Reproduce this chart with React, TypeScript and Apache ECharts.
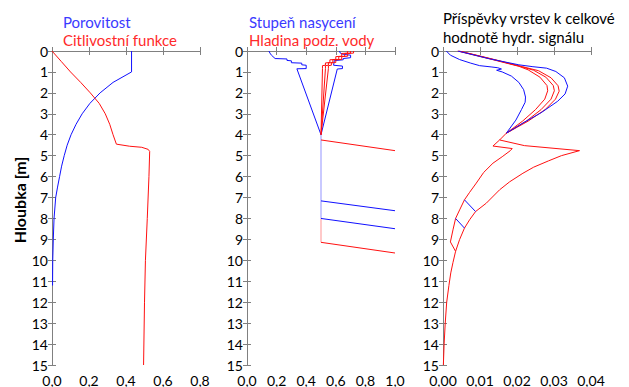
import React, { useEffect, useRef } from "react";
import * as echarts from "echarts";

// ---- Panel 1: porosity and sensitivity function vs depth ----
const porosityDepth = [0, 1, 1.5, 2, 2.5, 3, 3.5, 4, 4.5, 5, 5.5, 6, 6.5, 7, 8, 9, 10, 11.2];
const porosity = [0.43, 0.43, 0.33, 0.26, 0.205, 0.163, 0.13, 0.103, 0.082, 0.066, 0.052, 0.041, 0.03, 0.02, 0.011, 0.007, 0.004, 0.003];

const sensDepth = [0, 0.5, 1, 1.5, 2, 2.5, 3, 3.5, 4, 4.45, 4.55, 4.6, 4.7, 4.8, 6, 8, 10, 12, 15];
const sensitivity = [0, 0.05, 0.1, 0.155, 0.207, 0.255, 0.288, 0.312, 0.33, 0.348, 0.42, 0.485, 0.52, 0.528, 0.524, 0.515, 0.505, 0.5, 0.495];

// ---- Panel 2: saturation profiles and water table (pairs of [value, depth]) ----
const saturationLeft = [
  [0.148, 0], [0.155, 0.1], [0.165, 0.2], [0.19, 0.36], [0.27, 0.38], [0.27, 0.45], [0.3, 0.47],
  [0.3, 0.56], [0.37, 0.58], [0.37, 0.66], [0.4, 0.68], [0.4, 0.84], [0.337, 0.85], [0.5, 4.0],
];
const saturationRight = [
  [0.625, 0], [0.63, 0.1], [0.65, 0.16], [0.7, 0.2], [0.7, 0.32], [0.65, 0.36], [0.65, 0.42],
  [0.59, 0.46], [0.585, 0.68], [0.645, 0.72], [0.645, 0.84], [0.61, 0.86], [0.5, 4.0],
];
const waterLevelA = [
  [0.72, 0], [0.72, 0.1], [0.68, 0.12], [0.68, 0.25], [0.64, 0.27], [0.64, 0.4], [0.6, 0.42],
  [0.6, 0.55], [0.57, 0.57], [0.57, 0.68], [0.55, 0.7], [0.55, 0.84], [0.5, 4.0],
];
const waterLevelB = [
  [0.7, 0], [0.7, 0.1], [0.66, 0.12], [0.66, 0.25], [0.62, 0.27], [0.62, 0.4], [0.58, 0.42],
  [0.58, 0.55], [0.55, 0.57], [0.55, 0.68], [0.53, 0.7], [0.53, 0.84], [0.5, 4.0],
];
const waterLevelC = [
  [0.68, 0], [0.68, 0.1], [0.64, 0.12], [0.64, 0.25], [0.6, 0.27], [0.6, 0.4], [0.56, 0.42],
  [0.56, 0.55], [0.53, 0.57], [0.53, 0.68], [0.51, 0.7], [0.51, 0.84], [0.5, 4.0],
];
const saturationBelow = [[0.5, 4.0], [0.5, 8.0]];
const waterBelow = [[0.5, 8.0], [0.5, 9.14]];
const tableRedUpper = [[0.5, 4.25], [1.0, 4.76]];
const tableBlueUpper = [[0.5, 7.16], [1.0, 7.63]];
const tableBlueLower = [[0.5, 8.0], [1.0, 8.49]];
const tableRedLower = [[0.5, 9.14], [1.0, 9.65]];

// ---- Panel 3: layer contributions to total hydrological signal ----
const contribBlueInner = [
  [0.0009, 0], [0.002, 0.2], [0.0045, 0.41], [0.0075, 0.58], [0.0099, 0.7], [0.013, 0.76],
  [0.0148, 0.8], [0.0158, 0.86], [0.0145, 0.92], [0.016, 1.0], [0.0185, 1.2], [0.0205, 1.5],
  [0.0218, 1.85], [0.0223, 2.2], [0.0222, 2.45], [0.0212, 2.8], [0.0197, 3.3], [0.0171, 3.93],
];
const contribBlueOuter = [
  [0.004, 0], [0.0125, 0.37], [0.0205, 0.66], [0.0243, 0.75], [0.028, 0.82], [0.0305, 0.98],
  [0.0328, 1.28], [0.0337, 1.68], [0.033, 2.05], [0.031, 2.4], [0.0265, 2.95], [0.022, 3.4],
  [0.0171, 3.93],
];
const contribRedA = [
  [0.004, 0], [0.0125, 0.37], [0.0205, 0.73], [0.023, 0.9], [0.0262, 1.25], [0.0281, 1.65],
  [0.0283, 1.9], [0.0275, 2.3], [0.025, 2.8], [0.0215, 3.35], [0.0171, 3.93],
];
const contribRedB = [
  [0.0042, 0], [0.0128, 0.37], [0.021, 0.74], [0.0245, 0.92], [0.0278, 1.25], [0.0298, 1.65],
  [0.0301, 1.9], [0.0292, 2.3], [0.0265, 2.8], [0.0225, 3.35], [0.0171, 3.93],
];
const contribRedC = [
  [0.0044, 0], [0.013, 0.37], [0.0215, 0.75], [0.0258, 0.94], [0.0292, 1.28], [0.0311, 1.66],
  [0.0314, 1.92], [0.0304, 2.3], [0.0276, 2.8], [0.023, 3.35], [0.0171, 3.93],
];
const contribDeepLeft = [
  [0.0171, 3.93], [0.0153, 4.25], [0.0135, 4.54], [0.0187, 4.66], [0.0182, 4.76], [0.016, 5.05],
  [0.0135, 5.36], [0.011, 5.8], [0.009, 6.31], [0.0072, 6.75], [0.0058, 7.11], [0.0045, 7.59],
  [0.0034, 8.0], [0.0027, 8.54], [0.002, 9.12], [0.0034, 9.57], [0.0027, 10.1], [0.0021, 10.6],
  [0.0016, 11.2], [0.001, 12], [0.0006, 13], [0.0003, 14], [0.0001, 15],
];
const contribDeepRight = [
  [0.0153, 4.25], [0.022, 4.52], [0.0369, 4.76], [0.032, 5.0], [0.0285, 5.25], [0.0245, 5.55],
  [0.0216, 5.84], [0.018, 6.25], [0.0153, 6.63], [0.0117, 7.27], [0.0088, 7.67], [0.0072, 8.06],
  [0.0058, 8.46], [0.0045, 9.0], [0.0034, 9.57],
];
const contribLinkUpper = [[0.0058, 7.11], [0.0088, 7.67]];
const contribLinkLower = [[0.0034, 8.0], [0.0058, 8.46]];

const xMaxima = [0.8, 1.0, 0.04];
const xSteps = [0.2, 0.2, 0.01];
const xDecimals = [1, 1, 2];

const BLUE = "#1010ff";
const RED = "#ff1010";
const FONT = "Lato";

export default function App() {
  const ref = useRef<HTMLDivElement>(null);

  useEffect(() => {
    if (!ref.current) return;
    const chart = echarts.init(ref.current, undefined, { renderer: "svg" });

    const gridLefts = [52, 247, 443];
    const grids = gridLefts.map((left) => ({
      left,
      top: 51,
      width: 148,
      height: 315,
      show: false,
    }));

    const tickStyle = { show: true, inside: true, length: 4, lineStyle: { color: "#808080", width: 1 } };
    const frameLine = { show: true, lineStyle: { color: "#808080", width: 1 } };

    const xAxes: any[] = [];
    const yAxes: any[] = [];
    for (let i = 0; i < 3; i++) {
      const dec = xDecimals[i];
      xAxes.push({
        type: "value",
        gridIndex: i,
        position: "bottom",
        min: 0,
        max: xMaxima[i],
        interval: xSteps[i],
        axisLine: frameLine,
        axisTick: tickStyle,
        splitLine: { show: false },
        axisLabel: {
          color: "#000",
          fontFamily: FONT,
          fontSize: 14,
          margin: 8,
          formatter: (v: number) => v.toFixed(dec).replace(".", ","),
        },
      });
      xAxes.push({
        type: "value",
        gridIndex: i,
        position: "top",
        min: 0,
        max: xMaxima[i],
        interval: xSteps[i],
        axisLine: frameLine,
        axisTick: tickStyle,
        splitLine: { show: false },
        axisLabel: { show: false },
      });
      yAxes.push({
        type: "value",
        gridIndex: i,
        position: "left",
        inverse: true,
        min: 0,
        max: 15,
        interval: 1,
        axisLine: frameLine,
        axisTick: tickStyle,
        splitLine: { show: false },
        axisLabel: { color: "#000", fontFamily: FONT, fontSize: 14, margin: 4 },
      });
      yAxes.push({
        type: "value",
        gridIndex: i,
        position: "right",
        inverse: true,
        min: 0,
        max: 15,
        interval: 1,
        axisLine: frameLine,
        axisTick: tickStyle,
        splitLine: { show: false },
        axisLabel: { show: false },
      });
    }

    const line = (panel: number, data: number[][], color: string, opacity = 1) => ({
      type: "line",
      xAxisIndex: panel * 2,
      yAxisIndex: panel * 2,
      data,
      showSymbol: false,
      symbol: "none",
      silent: true,
      clip: true,
      lineStyle: { color, width: 1, opacity },
    });

    const zip = (xs: number[], ys: number[]) => xs.map((x, k) => [x, ys[k]]);

    const series = [
      line(0, zip(porosity, porosityDepth), BLUE),
      line(0, zip(sensitivity, sensDepth), RED),

      line(1, saturationBelow, BLUE, 0.45),
      line(1, waterBelow, RED, 0.45),
      line(1, saturationLeft, BLUE),
      line(1, saturationRight, BLUE),
      line(1, waterLevelA, RED),
      line(1, waterLevelB, RED),
      line(1, waterLevelC, RED),
      line(1, tableRedUpper, RED),
      line(1, tableBlueUpper, BLUE),
      line(1, tableBlueLower, BLUE),
      line(1, tableRedLower, RED),

      line(2, contribBlueInner, BLUE),
      line(2, contribRedA, RED),
      line(2, contribRedB, RED),
      line(2, contribRedC, RED),
      line(2, contribBlueOuter, BLUE),
      line(2, contribDeepLeft, RED),
      line(2, contribDeepRight, RED),
      line(2, contribLinkUpper, BLUE),
      line(2, contribLinkLower, BLUE),
    ];

    const txt = (x: number, y: number, text: string, fill: string) => ({
      type: "text",
      x,
      y,
      silent: true,
      style: {
        text,
        fill,
        font: `15px ${FONT}`,
        textAlign: "left",
        textVerticalAlign: "top",
      },
    });

    chart.setOption({
      animation: false,
      backgroundColor: "#ffffff",
      grid: grids,
      xAxis: xAxes,
      yAxis: yAxes,
      series,
      graphic: [
        txt(63, 14, "Porovitost", "#3a3aff"),
        txt(63, 32, "Citlivostní funkce", "#ff2a2a"),
        txt(249, 14, "Stupeň nasycení", "#3a3aff"),
        txt(249, 32, "Hladina podz. vody", "#ff2a2a"),
        txt(443, 10, "Příspěvky vrstev k celkové", "#000000"),
        txt(443, 29, "hodnotě hydr. signálu", "#000000"),
        {
          type: "text",
          x: 19,
          y: 200,
          rotation: Math.PI / 2,
          silent: true,
          style: {
            text: "Hloubka [m]",
            fill: "#000",
            font: `bold 16px ${FONT}`,
            textAlign: "center",
            textVerticalAlign: "middle",
          },
        },
      ],
    });

    return () => chart.dispose();
  }, []);

  return (
    <div
      ref={ref}
      style={{ position: "fixed", left: 0, top: 0, width: 629, height: 387, background: "#fff" }}
    />
  );
}
